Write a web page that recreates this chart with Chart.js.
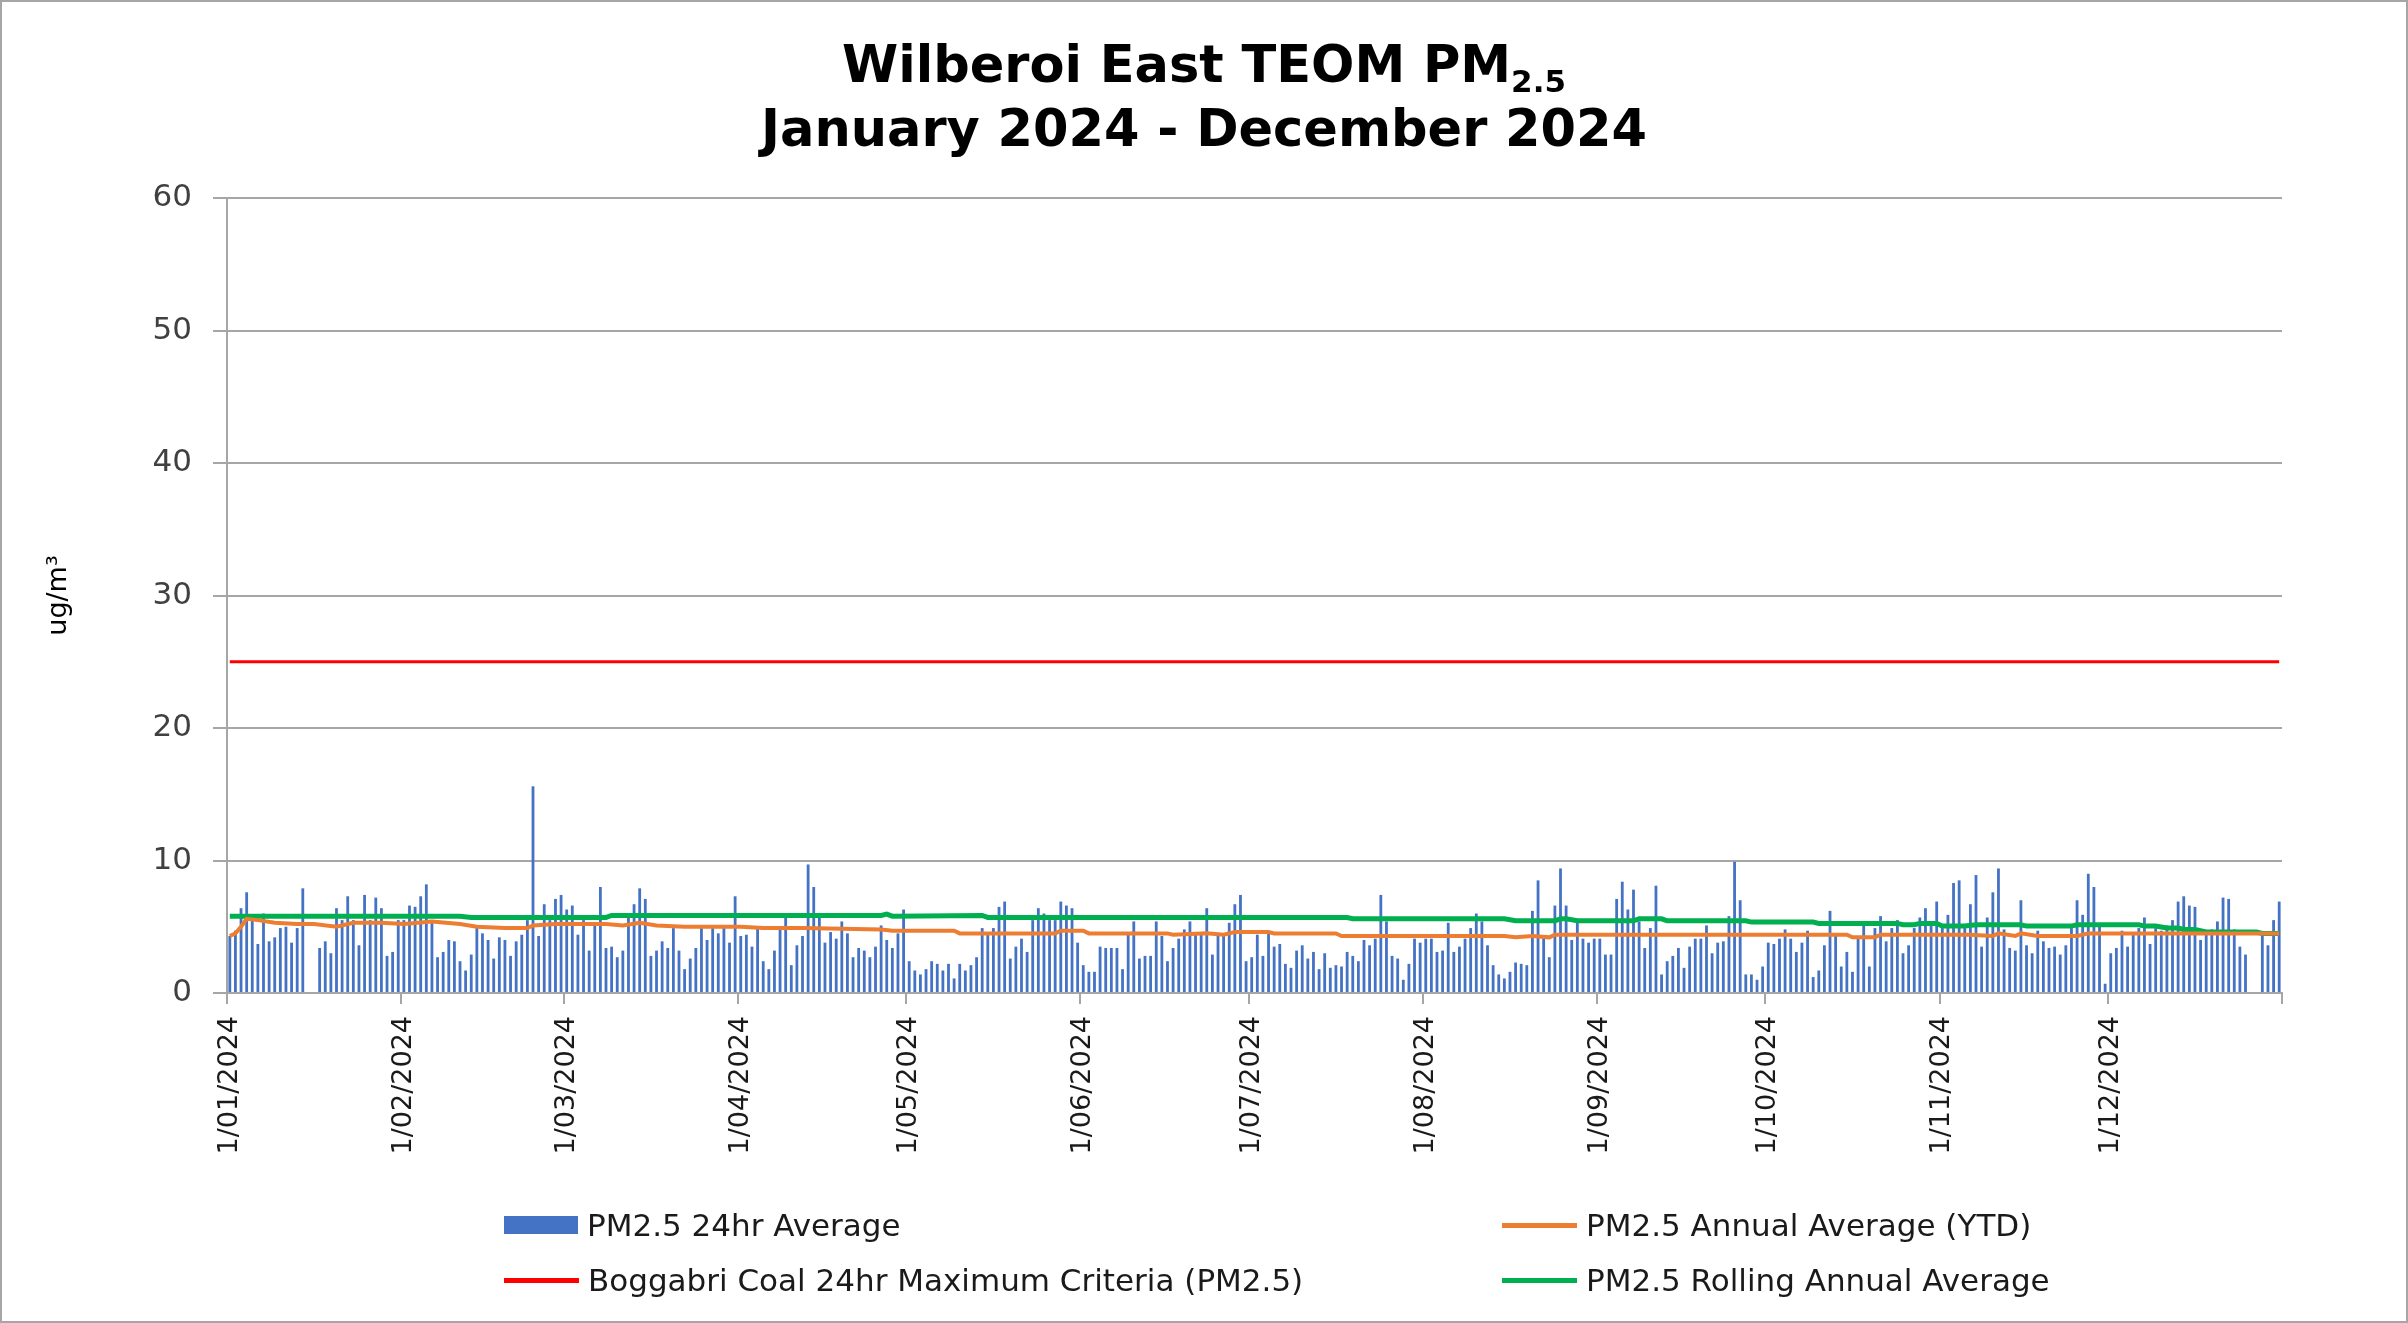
<!DOCTYPE html>
<html lang="en">
<head>
    <meta charset="UTF-8">
    <title>Wilberoi East TEOM PM2.5</title>
    <script src="https://cdn.jsdelivr.net/npm/chart.js"></script>
    <style>
        body {
            margin: 0;
            background: #fff;
        }

        #wrap {
            position: relative;
            width: 2408px;
            height: 1323px;
            overflow: hidden;
            background: #fff;
        }

        #frame {
            position: absolute;
            left: 0;
            top: 0;
            width: 2408px;
            height: 1323px;
            box-sizing: border-box;
            border: 2px solid #a6a6a6;
            pointer-events: none;
        }

        #chart {
            position: absolute;
            left: 0;
            top: 0;
        }

        #title {
            position: absolute;
            left: 0;
            top: 36px;
            width: 2408px;
            text-align: center;
            font: bold 51px "DejaVu Sans", sans-serif;
            line-height: 57px;
            color: #000;
        }

        #title .sub {
            font-size: 31px;
            position: relative;
            top: 10px;
        }

        .item {
            position: absolute;
            display: flex;
            align-items: center;
            height: 30px;
            font: 31px "DejaVu Sans", sans-serif;
            line-height: 30px;
            color: #1a1a1a;
            white-space: nowrap;
        }

        .item .box {
            display: inline-block;
            width: 74px;
            height: 18px;
            margin-right: 9px;
        }

        .item .line {
            display: inline-block;
            width: 75px;
            height: 5px;
            margin-right: 9px;
        }
    </style>
</head>
<body>
<div id="wrap">
    <canvas id="chart" width="2408" height="1323"></canvas>
    <div id="title">Wilberoi East TEOM PM<span class="sub">2.5</span><br>January 2024 - December 2024</div>
    <div id="legend"></div>
    <div id="frame"></div>
</div>

<script>
    // daily PM2.5 24hr averages (ug/m3); null = no data that day
    const jan = [4.3, 4.7, 6.4, 7.6, 5.7, 3.7, 6.0, 3.9, 4.2, 4.9, 5.0, 3.8, 4.9, 7.9, null, null,
        3.4, 3.9, 3.0, 6.4, 5.5, 7.3, 5.5, 3.6, 7.4, 5.5, 7.2, 6.4, 2.8, 3.1, 5.5];
    const feb = [5.5, 6.6, 6.5, 7.3, 8.2, 5.5, 2.7, 3.1, 4.0, 3.9, 2.4, 1.7, 2.9, 4.9, 4.5, 4.0,
        2.6, 4.2, 4.0, 2.8, 3.9, 4.4, 5.5, 15.6, 4.3, 6.7, 5.5, 7.1, 7.4];
    const mar = [6.3, 6.6, 4.4, 5.5, 3.2, 5.1, 8.0, 3.4, 3.5, 2.7, 3.2, 5.7, 6.7, 7.9, 7.1, 2.8,
        3.2, 3.9, 3.4, 4.9, 3.2, 1.8, 2.6, 3.4, 4.9, 4.0, 4.9, 4.5, 4.9, 3.8, 7.3];
    const apr = [4.3, 4.4, 3.5, 4.9, 2.4, 1.8, 3.2, 4.9, 6.0, 2.1, 3.6, 4.3, 9.7, 8.0, 5.7, 3.8,
        4.6, 4.1, 5.4, 4.5, 2.7, 3.4, 3.2, 2.7, 3.5, 5.1, 4.0, 3.4, 4.5, 6.3];
    const may = [2.4, 1.7, 1.4, 1.8, 2.4, 2.2, 1.7, 2.2, 1.1, 2.2, 1.7, 2.1, 2.7, 4.9, 4.5, 4.9,
        6.5, 6.9, 2.6, 3.5, 4.1, 3.1, 5.5, 6.4, 6.0, 5.5, 5.5, 6.9, 6.6, 6.4, 3.8];
    const jun = [2.1, 1.6, 1.6, 3.5, 3.4, 3.4, 3.4, 1.8, 4.5, 5.4, 2.6, 2.8, 2.8, 5.4, 4.3, 2.4,
        3.4, 4.1, 4.8, 5.4, 4.5, 4.4, 6.4, 2.9, 4.4, 4.4, 5.3, 6.7, 7.4, 2.4];
    const jul = [2.7, 4.4, 2.8, 4.5, 3.5, 3.7, 2.2, 1.9, 3.2, 3.6, 2.6, 3.1, 1.8, 3.0, 1.9, 2.1,
        2.0, 3.1, 2.8, 2.4, 4.0, 3.6, 4.1, 7.4, 5.4, 2.8, 2.6, 1.0, 2.2, 4.1, 3.8];
    const aug = [4.1, 4.1, 3.1, 3.2, 5.3, 3.1, 3.5, 4.1, 4.9, 6.0, 5.4, 3.6, 2.1, 1.4, 1.1, 1.6,
        2.3, 2.2, 2.1, 6.2, 8.5, 4.1, 2.7, 6.6, 9.4, 6.6, 4.0, 5.4, 4.1, 3.8, 4.1];
    const sep = [4.1, 2.9, 2.9, 7.1, 8.4, 6.3, 7.8, 5.4, 3.4, 4.9, 8.1, 1.4, 2.4, 2.8, 3.4, 1.9,
        3.5, 4.1, 4.1, 5.1, 3.0, 3.8, 3.9, 5.8, 9.9, 7.0, 1.4, 1.4, 1.0, 2.0];
    const oct = [3.8, 3.7, 4.1, 4.8, 4.1, 3.1, 3.8, 4.7, 1.2, 1.7, 3.6, 6.2, 4.3, 2.0, 3.1, 1.6,
        4.1, 5.1, 2.0, 4.9, 5.8, 3.9, 4.9, 5.5, 3.0, 3.6, 4.9, 5.7, 6.4, 5.4, 6.9];
    const nov = [5.0, 5.9, 8.3, 8.5, 5.0, 6.7, 8.9, 3.5, 5.7, 7.6, 9.4, 4.8, 3.4, 3.2, 7.0, 3.6,
        3.0, 4.7, 3.9, 3.4, 3.5, 2.9, 3.6, 4.9, 7.0, 5.9, 9.0, 8.0, 5.0, 0.7];
    const dec = [3.0, 3.4, 4.7, 3.5, 4.4, 4.9, 5.7, 3.7, 4.9, 4.7, 5.1, 5.5, 6.9, 7.3, 6.6, 6.5,
        4.0, 4.4, 4.8, 5.4, 7.2, 7.1, 4.8, 3.5, 2.9, null, null, 4.4, 3.6, 5.5, 6.9];

    // annual average (YTD) line, read at the points where it changes
    const ytdDates = ['1/01/2024', '2/01/2024', '3/01/2024', '4/01/2024', '6/01/2024', '9/01/2024',
        '13/01/2024', '16/01/2024', '20/01/2024', '23/01/2024', '28/01/2024', '1/02/2024', '6/02/2024',
        '11/02/2024', '14/02/2024', '19/02/2024', '23/02/2024', '24/02/2024', '28/02/2024', '3/03/2024',
        '8/03/2024', '11/03/2024', '14/03/2024', '17/03/2024', '22/03/2024', '1/04/2024', '5/04/2024',
        '12/04/2024', '26/04/2024', '28/04/2024', '4/05/2024', '9/05/2024', '10/05/2024', '27/05/2024',
        '28/05/2024', '1/06/2024', '2/06/2024', '16/06/2024', '17/06/2024', '23/06/2024', '26/06/2024',
        '28/06/2024', '4/07/2024', '5/07/2024', '16/07/2024', '17/07/2024', '15/08/2024', '17/08/2024',
        '20/08/2024', '23/08/2024', '24/08/2024', '15/10/2024', '16/10/2024', '20/10/2024', '21/10/2024',
        '6/11/2024', '10/11/2024', '11/11/2024', '14/11/2024', '15/11/2024', '18/11/2024', '25/11/2024',
        '27/11/2024', '31/12/2024'];
    const ytdValues = [4.3, 4.5, 5.0, 5.6, 5.5, 5.3, 5.2, 5.2, 5.0, 5.3, 5.3, 5.2, 5.4, 5.2, 5.0, 4.9,
        4.9, 5.1, 5.2, 5.2, 5.2, 5.1, 5.3, 5.1, 5.0, 5.0, 4.9, 4.9, 4.8, 4.7, 4.7, 4.7, 4.5, 4.5, 4.7,
        4.7, 4.5, 4.5, 4.4, 4.5, 4.4, 4.6, 4.6, 4.5, 4.5, 4.3, 4.3, 4.2, 4.3, 4.2, 4.4, 4.4, 4.2, 4.2,
        4.4, 4.4, 4.3, 4.5, 4.3, 4.5, 4.3, 4.3, 4.5, 4.5];

    // rolling annual average line
    const rollingDates = ['1/01/2024', '11/02/2024', '13/02/2024', '8/03/2024', '9/03/2024', '26/04/2024',
        '27/04/2024', '28/04/2024', '14/05/2024', '15/05/2024', '18/07/2024', '19/07/2024', '15/08/2024',
        '17/08/2024', '24/08/2024', '25/08/2024', '26/08/2024', '28/08/2024', '7/09/2024', '8/09/2024',
        '12/09/2024', '13/09/2024', '27/09/2024', '28/09/2024', '9/10/2024', '10/10/2024', '24/10/2024',
        '25/10/2024', '27/10/2024', '28/10/2024', '31/10/2024', '1/11/2024', '5/11/2024', '7/11/2024',
        '15/11/2024', '16/11/2024', '24/11/2024', '25/11/2024', '6/12/2024', '7/12/2024', '9/12/2024',
        '11/12/2024', '13/12/2024', '14/12/2024', '16/12/2024', '18/12/2024', '27/12/2024', '28/12/2024',
        '31/12/2024'];
    const rollingValues = [5.8, 5.8, 5.7, 5.7, 5.85, 5.85, 5.95, 5.8, 5.85, 5.7, 5.7, 5.6, 5.6, 5.45,
        5.45, 5.6, 5.6, 5.45, 5.45, 5.6, 5.6, 5.45, 5.45, 5.35, 5.35, 5.25, 5.25, 5.15, 5.15, 5.25, 5.25,
        5.05, 5.05, 5.15, 5.15, 5.05, 5.05, 5.15, 5.15, 5.05, 5.05, 4.9, 4.9, 4.8, 4.8, 4.6, 4.6, 4.5, 4.5];

    const criteria = 25;
    const monthTicks = ['1/01/2024', '1/02/2024', '1/03/2024', '1/04/2024', '1/05/2024', '1/06/2024',
        '1/07/2024', '1/08/2024', '1/09/2024', '1/10/2024', '1/11/2024', '1/12/2024'];

    // one category per day of 2024, d/mm/yyyy
    const labels = [];
    for (let d = new Date(2024, 0, 1); d.getFullYear() === 2024; d.setDate(d.getDate() + 1)) {
        labels.push(d.getDate() + '/' + String(d.getMonth() + 1).padStart(2, '0') + '/2024');
    }
    const daily = [].concat(jan, feb, mar, apr, may, jun, jul, aug, sep, oct, nov, dec);

    const toPoints = (dates, values) => dates.map((x, i) => ({ x: x, y: values[i] }));

    const GRID = '#a6a6a6';

    const ctx = document.getElementById('chart').getContext('2d');
    const chart = new Chart(ctx, {
        type: 'bar',
        data: {
            labels: labels,
            datasets: [
                {
                    type: 'bar',
                    label: 'PM2.5 24hr Average',
                    data: daily,
                    backgroundColor: '#4472C4',
                    barPercentage: 0.5,
                    categoryPercentage: 1,
                    order: 4
                },
                {
                    type: 'line',
                    label: 'PM2.5 Annual Average (YTD)',
                    data: toPoints(ytdDates, ytdValues),
                    borderColor: '#ED7D31',
                    backgroundColor: '#ED7D31',
                    borderWidth: 4,
                    pointRadius: 0,
                    tension: 0,
                    order: 2
                },
                {
                    type: 'line',
                    label: 'Boggabri Coal 24hr Maximum Criteria (PM2.5)',
                    data: [{ x: labels[0], y: criteria }, { x: labels[labels.length - 1], y: criteria }],
                    borderColor: '#FF0000',
                    backgroundColor: '#FF0000',
                    borderWidth: 3,
                    pointRadius: 0,
                    order: 1
                },
                {
                    type: 'line',
                    label: 'PM2.5 Rolling Annual Average',
                    data: toPoints(rollingDates, rollingValues),
                    borderColor: '#00B050',
                    backgroundColor: '#00B050',
                    borderWidth: 5,
                    pointRadius: 0,
                    tension: 0,
                    order: 3
                }
            ]
        },
        options: {
            responsive: false,
            animation: false,
            devicePixelRatio: 1,
            layout: {
                padding: { left: 0, top: 198, right: 126, bottom: 0 }
            },
            plugins: {
                legend: { display: false },
                title: { display: false },
                tooltip: { enabled: false }
            },
            scales: {
                x: {
                    grid: {
                        display: true,
                        drawOnChartArea: false,
                        drawTicks: true,
                        tickLength: 11,
                        lineWidth: 2,
                        // tick marks only at the start of each month (and the end of the axis)
                        color: c => {
                            const l = labels[c.index];
                            return (l === undefined || monthTicks.includes(l)) ? GRID : 'rgba(0,0,0,0)';
                        }
                    },
                    border: { display: true, color: GRID, width: 2 },
                    ticks: {
                        autoSkip: false,
                        minRotation: 90,
                        maxRotation: 90,
                        padding: 12,
                        color: '#1a1a1a',
                        font: { family: 'DejaVu Sans', size: 27 },
                        callback: (v, i) => monthTicks.includes(labels[i]) ? labels[i] : ''
                    },
                    afterFit: s => { s.height = 330; }
                },
                y: {
                    min: 0,
                    max: 60,
                    ticks: {
                        stepSize: 10,
                        padding: 21,
                        color: '#404040',
                        font: { family: 'DejaVu Sans', size: 31 }
                    },
                    grid: { color: GRID, lineWidth: 2, tickLength: 14 },
                    border: { display: true, color: GRID, width: 2 },
                    title: {
                        display: true,
                        text: 'ug/m³',
                        color: '#000',
                        font: { family: 'DejaVu Sans', size: 27 },
                        padding: { top: 43, bottom: 0 }
                    },
                    afterFit: s => { s.width = 227; }
                }
            }
        }
    });

    // two-column legend below the axis, built from the datasets
    const legendBox = document.getElementById('legend');
    chart.data.datasets.forEach((ds, i) => {
        const item = document.createElement('div');
        item.className = 'item';
        item.style.left = (i % 2 ? 1502 : 504) + 'px';
        item.style.top = (i < 2 ? 1210 : 1265) + 'px';
        const key = document.createElement('span');
        key.className = ds.type === 'bar' ? 'box' : 'line';
        key.style.background = ds.type === 'bar' ? ds.backgroundColor : ds.borderColor;
        item.appendChild(key);
        item.appendChild(document.createTextNode(ds.label));
        legendBox.appendChild(item);
    });
</script>
</body>
</html>
